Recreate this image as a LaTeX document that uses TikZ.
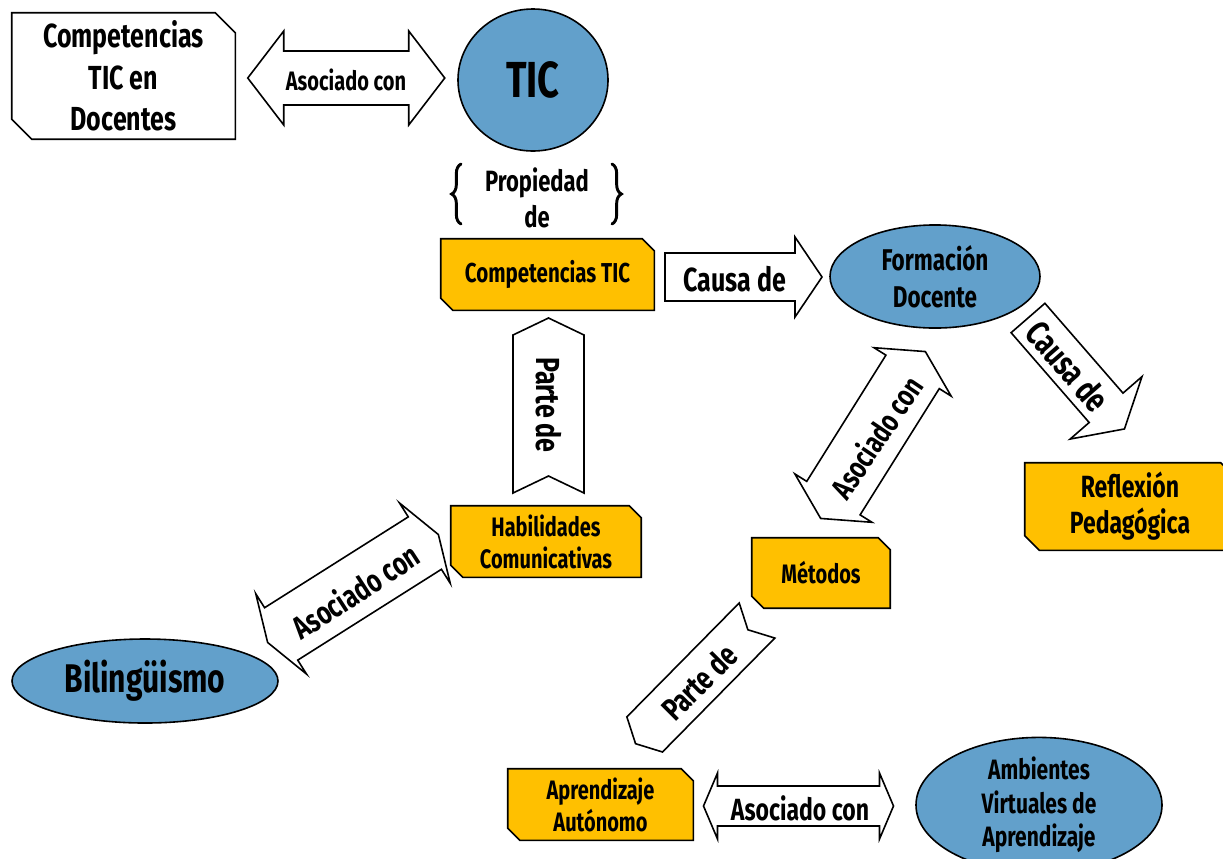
\documentclass[tikz,border=0pt]{standalone}
\usepackage{fontspec}
\setmainfont{Fira Sans}[FakeStretch=0.75]
\usetikzlibrary{backgrounds,decorations.pathreplacing,shapes.geometric}
\definecolor{ublue}{HTML}{62A0CB}
\definecolor{uyellow}{HTML}{FFC000}
\newcommand{\fs}[2]{\fontsize{#1}{#2}\selectfont}
\tikzset{
  outl/.style={draw=black, line width=1.2pt, line join=miter},
  txt/.style={font=\bfseries, align=center, inner sep=0pt, text=black},
  boxn/.style={txt, rectangle, draw=none},
  elln/.style={txt, ellipse, outl, fill=ublue},
  blk/.style={outl, fill=white},
  bracel/.style={decorate, decoration={brace, amplitude=7pt}, line width=2.2pt, line cap=round},
}
% snipped box outline behind a named node: name, fill, snip size
\newcommand{\snip}[3]{%
  \begin{scope}[on background layer]
  \draw[outl, fill=#2] (#1.north west) -- ([xshift=-#3]#1.north east) -- ([yshift=-#3]#1.north east) -- (#1.south east) -- ([xshift=#3]#1.south west) -- ([yshift=#3]#1.south west) -- cycle;
  \end{scope}}
% double block arrow: cx, cy, angle, halfL, tip, halfshaft, halfhead
\newcommand{\dblarrow}[7]{%
  \draw[blk, shift={(#1,#2)}, rotate=#3] ({-#4-#5},0) -- (-#4,#7) -- (-#4,#6) -- (#4,#6) -- (#4,#7) -- ({#4+#5},0) -- (#4,-#7) -- (#4,-#6) -- (-#4,-#6) -- (-#4,-#7) -- cycle;}
% single block arrow: tailx, taily, angle, L, tip, halfshaft, halfhead
\newcommand{\sglarrow}[7]{%
  \draw[blk, shift={(#1,#2)}, rotate=#3] (0,-#6) -- (#4,-#6) -- (#4,-#7) -- ({#4+#5},0) -- (#4,#7) -- (#4,#6) -- (0,#6) -- cycle;}
% chevron arrow: tailx, taily, angle, L, depth, halfwidth
\newcommand{\chevarrow}[6]{%
  \draw[blk, shift={(#1,#2)}, rotate=#3] (0,-#6) -- (#4,-#6) -- ({#4+#5},0) -- (#4,#6) -- (0,#6) -- (#5,0) -- cycle;}
\begin{document}
\begin{tikzpicture}[x=0.75pt, y=-0.75pt]
\useasboundingbox (0,0) rectangle (1223,858);

% ---------- boxes ----------
\node[boxn, minimum width=167.3pt, minimum height=94.5pt, font=\bfseries\fs{25}{31}] (cticd) at (123.5,76) {Competencias\\TIC en\\Docentes};
\snip{cticd}{white}{15pt}
\node[boxn, minimum width=159.8pt, minimum height=53.3pt, font=\bfseries\fs{20.5}{25}] (ctic) at (547.5,274.5) {Competencias TIC};
\snip{ctic}{uyellow}{9pt}
\node[boxn, minimum width=142.5pt, minimum height=53.3pt, font=\bfseries\fs{20}{24}] (hab) at (546,541.5) {Habilidades\\Comunicativas};
\snip{hab}{uyellow}{9pt}
\node[boxn, minimum width=103.5pt, minimum height=52.5pt, font=\bfseries\fs{20}{24}] (met) at (821,573) {Métodos};
\snip{met}{uyellow}{9pt}
\node[boxn, minimum width=157.5pt, minimum height=65.3pt, font=\bfseries\fs{23}{27}] (refl) at (1130,506.5) {Reflexión\\Pedagógica};
\snip{refl}{uyellow}{11pt}
\node[boxn, minimum width=138.8pt, minimum height=53.3pt, font=\bfseries\fs{20}{24}] (apr) at (600.5,804.5) {Aprendizaje\\Autónomo};
\snip{apr}{uyellow}{9pt}

% ---------- ellipses ----------
\node[elln, minimum width=112.5pt, minimum height=106.5pt, font=\bfseries\fs{38}{40}] (tic) at (533,80) {TIC};
\node[elln, minimum width=157.5pt, minimum height=77.3pt, font=\bfseries\fs{22.5}{27.5}] (fd) at (935,276.5) {Formación\\Docente};
\node[elln, minimum width=199.5pt, minimum height=63pt, font=\bfseries\fs{30}{32}] (bil) at (145,681) {Bilingüismo};
\node[elln, minimum width=184.5pt, minimum height=90pt, font=\bfseries\fs{21}{25}] (avd) at (1039,805) {Ambientes\\Virtuales de\\Aprendizaje};

% ---------- block arrows ----------
\dblarrow{346.25}{78}{0}{62.5}{36}{27}{47}
\node[txt, font=\bfseries\fs{20}{24}] (l1) at (346,80) {Asociado con};

\sglarrow{665}{277}{0}{130}{27}{24}{40}
\node[txt, font=\bfseries\fs{25}{30}] (l2) at (735,279) {Causa de};

\sglarrow{1028}{318}{-49}{119}{28}{22.4}{47.6}
\node[txt, font=\bfseries\fs{26}{30}, rotate=-49] (l3) at (1068,366) {Causa de};

\dblarrow{873}{435}{57.9}{74.5}{24}{31.5}{45.5}
\node[txt, font=\bfseries\fs{23}{27}, rotate=56] (l4) at (876,437) {Asociado con};

\chevarrow{548.5}{493}{90}{158}{17}{35.5}
\node[txt, font=\bfseries\fs{25}{30}, rotate=-90] (l5) at (549,405) {Parte de};

\dblarrow{353}{588.5}{32.3}{85}{16}{31}{47.5}
\node[txt, font=\bfseries\fs{24}{28}, rotate=33] (l6) at (355,591) {Asociado con};

\chevarrow{757}{620.5}{-134.6}{160}{13}{25}
\node[txt, font=\bfseries\fs{24}{28}, rotate=45] (l7) at (699,682) {Parte de};

\dblarrow{798.5}{806}{0}{81}{14}{20}{33}
\node[txt, font=\bfseries\fs{23}{27}] (l8) at (800,808) {Asociado con};

% ---------- braces ----------
\node[txt, font=\bfseries\fs{22}{27}] (prop) at (537,198) {Propiedad\\de};
\coordinate (lbb) at (461,224);
\coordinate (lbt) at (461,164);
\coordinate (rbt) at (612,164);
\coordinate (rbb) at (612,224);
\draw[bracel] (lbb) -- (lbt);
\draw[bracel] (rbt) -- (rbb);
\end{tikzpicture}
\end{document}
